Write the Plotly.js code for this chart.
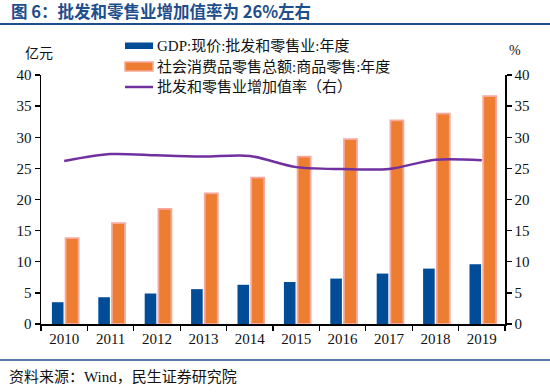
<!DOCTYPE html>
<html>
<head>
<meta charset="utf-8">
<script src="https://cdn.plot.ly/plotly-3.0.1.min.js"></script>
<style>html,body{margin:0;padding:0;background:#fff;}#chart{width:550px;height:392px;}</style>
</head>
<body>
<div id="chart"></div>
<script>
const years = ['2010','2011','2012','2013','2014','2015','2016','2017','2018','2019'];
const gdpWholesaleRetail = [3.5, 4.3, 4.9, 5.6, 6.3, 6.75, 7.3, 8.1, 8.9, 9.6];
const retailSalesGoods = [13.8, 16.2, 18.5, 21.0, 23.5, 26.9, 29.7, 32.7, 33.8, 36.6];
const valueAddedRate = [26.2, 27.3, 27.1, 26.9, 27.0, 25.2, 24.9, 24.9, 26.4, 26.3];
const seriesNames = ['GDP:现价:批发和零售业:年度', '社会消费品零售总额:商品零售:年度', '批发和零售业增加值率（右）'];
const leftTicks = [0,5,10,15,20,25,30,35,40];

const W = 550, H = 392;
const L = 41, R = 505, T = 75, B = 324;
const px = x => (x - L) / (R - L);
const py = y => (B - y) / (B - T);

const serif = '"Liberation Serif", "Times New Roman", "Noto Sans CJK SC", serif';
const cjk = '"Liberation Serif", "Noto Sans CJK SC", serif';
const navy = '#004C97', orange = '#ED7D31', orangeEdge = '#F6A99C', purple = '#7030A0';
const titleBlue = '#1F4E8C';

const traces = [
  {type:'bar', x: years, y: gdpWholesaleRetail, name: seriesNames[0],
   marker:{color: navy}, offset: -0.265, width: 0.25, yaxis:'y', showlegend:false},
  {type:'bar', x: years, y: retailSalesGoods, name: seriesNames[1],
   marker:{color: orange, line:{color: orangeEdge, width: 1.8}}, offset: 0.03, width: 0.28, yaxis:'y', showlegend:false},
  {type:'scatter', mode:'lines', x: years, y: valueAddedRate, name: seriesNames[2],
   line:{color: purple, width: 2.5, shape:'spline', smoothing: 0.8}, yaxis:'y2', showlegend:false}
];

const shapes = [
  {type:'line', xref:'paper', yref:'paper', x0: px(0), x1: px(550), y0: py(24), y1: py(24), line:{color: titleBlue, width: 2}},
  {type:'line', xref:'paper', yref:'paper', x0: px(0), x1: px(550), y0: py(360), y1: py(360), line:{color: titleBlue, width: 1.5}},
  {type:'rect', xref:'paper', yref:'paper', x0: px(125), x1: px(153), y0: py(42.5), y1: py(49), fillcolor: navy, line:{width:0}},
  {type:'rect', xref:'paper', yref:'paper', x0: px(125), x1: px(153), y0: py(62), y1: py(71), fillcolor: orange, line:{color: orangeEdge, width:1.5}},
  {type:'line', xref:'paper', yref:'paper', x0: px(125), x1: px(153), y0: py(87), y1: py(87), line:{color: purple, width: 2.5}}
];

const ann = (text, x, y, size, opts={}) => Object.assign({
  text, xref:'paper', yref:'paper', x: px(x), y: py(y), xanchor:'left', yanchor:'middle',
  showarrow:false, font:{family: cjk, size, color:'#111'}}, opts);

const annotations = [
  ann('<b>图 6：批发和零售业增加值率为 26%左右</b>', 9, 11, 16.5, {font:{family:'"Noto Sans CJK SC", sans-serif', size:16.5, color: titleBlue}}),
  ann(seriesNames[0], 155, 46, 15),
  ann(seriesNames[1], 155, 66.5, 15),
  ann(seriesNames[2], 155, 87, 15),
  ann('亿元', 23, 53, 14),
  ann('%', 507, 51, 14, {font:{family: serif, size:14, color:'#111'}}),
  ann('资料来源：Wind，民生证券研究院', 7, 376, 15)
];

const layout = {
  width: W, height: H,
  margin:{l: L, r: W - R, t: T, b: H - B, pad: 0},
  paper_bgcolor:'#fff', plot_bgcolor:'#fff',
  barmode:'overlay',
  showlegend:false,
  xaxis:{type:'category', tickson:'boundaries', ticks:'outside', ticklen:5, tickwidth:1.3, tickcolor:'#000',
    showline:true, linecolor:'#000', linewidth:1.5, showgrid:false, zeroline:false,
    tickfont:{family: serif, size:15, color:'#111'}},
  yaxis:{range:[0,40], tickvals: leftTicks, ticks:'outside', ticklen:5, tickwidth:1.3, tickcolor:'#000',
    showline:true, linecolor:'#000', linewidth:1.5, showgrid:false, zeroline:false,
    tickfont:{family: serif, size:15, color:'#111'}},
  yaxis2:{range:[0,40], tickvals: leftTicks, overlaying:'y', side:'right', ticks:'outside', ticklen:5, tickwidth:1.3, tickcolor:'#000',
    showline:true, linecolor:'#000', linewidth:1.5, showgrid:false, zeroline:false,
    tickfont:{family: serif, size:15, color:'#111'}},
  shapes, annotations
};

Plotly.newPlot('chart', traces, layout, {displayModeBar:false, staticPlot:true});
</script>
</body>
</html>
